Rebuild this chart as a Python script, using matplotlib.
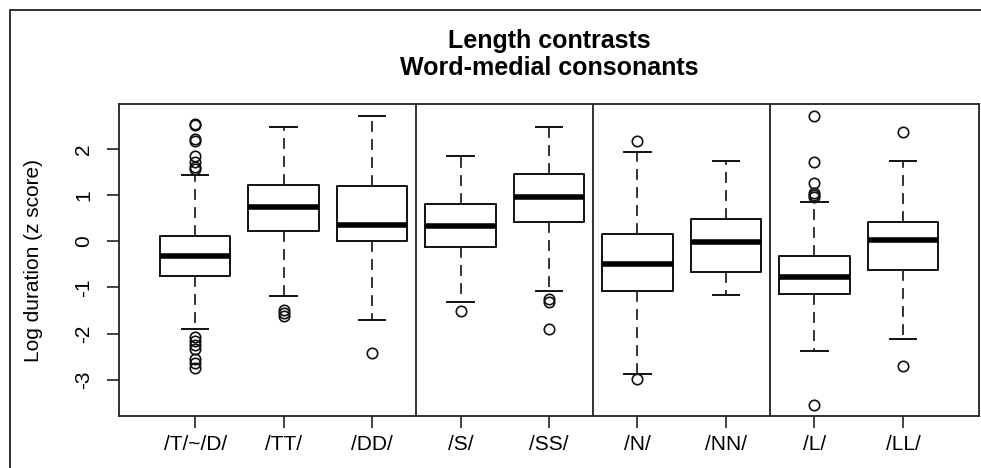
import matplotlib
matplotlib.use("Agg")
import matplotlib.pyplot as plt
from matplotlib.patches import Rectangle

plt.rcParams['font.family'] = ['Liberation Sans', 'DejaVu Sans']

categories = ["/T/~/D/", "/TT/", "/DD/", "/S/", "/SS/", "/N/", "/NN/", "/L/", "/LL/"]
medians = [-0.32, 0.75, 0.35, 0.33, 0.96, -0.50, -0.02, -0.77, 0.02]
q1 = [-0.75, 0.23, 0.00, -0.12, 0.41, -1.07, -0.66, -1.14, -0.62]
q3 = [0.12, 1.23, 1.21, 0.80, 1.47, 0.17, 0.49, -0.31, 0.43]
whisker_low = [-1.90, -1.18, -1.70, -1.31, -1.08, -2.87, -1.16, -2.38, -2.12]
whisker_high = [1.44, 2.48, 2.73, 1.86, 2.49, 1.94, 1.75, 0.86, 1.75]
outliers = [
    [2.55, 2.53, 2.22, 2.17, 1.86, 1.73, 1.62, 1.57,
     -2.07, -2.16, -2.25, -2.34, -2.56, -2.65, -2.75],
    [-1.48, -1.55, -1.62],
    [-2.43],
    [-1.52],
    [-1.25, -1.31, -1.91],
    [2.17, -2.99],
    [],
    [2.72, 1.72, 1.27, 1.05, 1.00, 0.97, -3.56],
    [2.38, -2.71],
]
group_dividers = [3.5, 5.5, 7.5]
yticks = [-3, -2, -1, 0, 1, 2]

fig = plt.figure(figsize=(9.81, 4.68), dpi=100)
# outer frame (partially cropped in the reference)
fig.patches.append(Rectangle((10 / 981, -0.1), 2.0, 1.1 - 10 / 468,
                             transform=fig.transFigure, fill=False,
                             edgecolor='#222222', linewidth=1.3))

ax = fig.add_axes([119 / 981, (468 - 416) / 468, (979 - 119) / 981, (416 - 104) / 468])

stats = []
for i, lab in enumerate(categories):
    stats.append(dict(label=lab, med=medians[i], q1=q1[i], q3=q3[i],
                      whislo=whisker_low[i], whishi=whisker_high[i],
                      fliers=outliers[i]))

positions = list(range(1, len(categories) + 1))
ax.bxp(stats, positions=positions, widths=0.8, capwidths=0.3,
       showfliers=True, patch_artist=False,
       boxprops=dict(color='#111111', linewidth=1.4),
       medianprops=dict(color='black', linewidth=4.0, solid_capstyle='butt'),
       whiskerprops=dict(color='#222222', linewidth=1.3, linestyle=(0, (6, 4))),
       capprops=dict(color='#111111', linewidth=1.4),
       flierprops=dict(marker='o', markerfacecolor='none', markeredgecolor='#111111',
                       markersize=7.5, markeredgewidth=1.2))

for d in group_dividers:
    ax.axvline(d, color='#222222', linewidth=1.3)

ax.set_xlim(0.14, 9.86)
ax.set_ylim(-3.79, 2.98)
ax.set_xticks(positions)
ax.set_xticklabels(categories, fontsize=15)
ax.set_yticks(yticks)
ax.set_yticklabels([str(t) for t in yticks], fontsize=15, rotation=90, va='center')
ax.tick_params(axis='both', length=8.5, width=1.2, color='#222222')
ax.tick_params(axis='x', pad=5)
ax.tick_params(axis='y', pad=10)
for s in ax.spines.values():
    s.set_color('#222222')
    s.set_linewidth(1.3)

ax.set_ylabel("Log duration (z score)", fontsize=15)
ax.yaxis.set_label_coords(-0.088, 0.5)

fig.text(549 / 981, 1 - 48 / 468, "Length contrasts", ha='center', va='baseline',
         fontsize=18, fontweight='bold')
fig.text(549 / 981, 1 - 75 / 468, "Word-medial consonants", ha='center', va='baseline',
         fontsize=18, fontweight='bold')

fig.savefig("out.png", dpi=100)
